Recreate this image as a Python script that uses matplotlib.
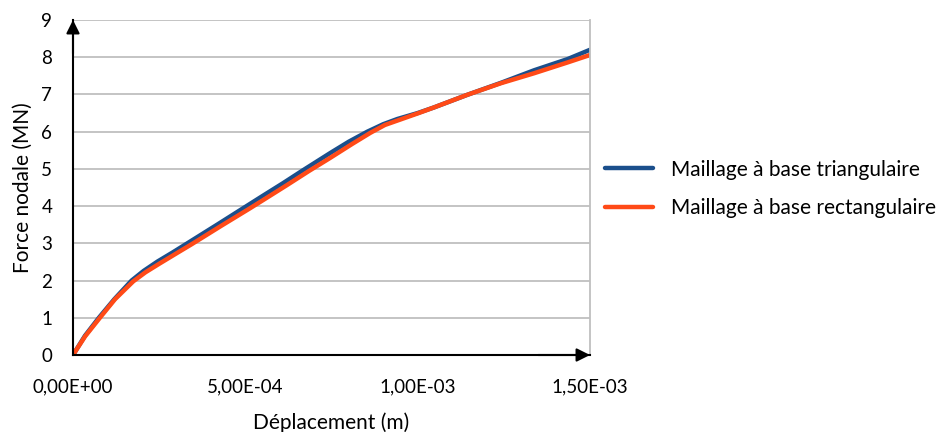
import matplotlib
matplotlib.use("Agg")
import matplotlib.pyplot as plt
from matplotlib.ticker import FuncFormatter

plt.rcParams['font.family'] = ['Lato', 'DejaVu Sans']

# displacement (m) and nodal force (MN)
x_tri = [0, 0.035e-3, 0.075e-3, 0.12e-3, 0.17e-3, 0.205e-3, 0.245e-3, 0.29e-3, 0.335e-3,
         0.418e-3, 0.50e-3, 0.553e-3, 0.61e-3, 0.665e-3, 0.747e-3, 0.80e-3, 0.854e-3,
         0.90e-3, 0.941e-3, 1.0e-3, 1.047e-3, 1.144e-3, 1.241e-3, 1.338e-3, 1.435e-3,
         1.50e-3]
f_tri = [0, 0.52, 1.0, 1.5, 2.0, 2.26, 2.51, 2.76, 3.02,
         3.5, 3.98, 4.29, 4.62, 4.95, 5.43, 5.73, 6.0,
         6.2, 6.34, 6.5, 6.65, 6.99, 7.31, 7.65, 7.95,
         8.2]

x_rect = [0, 0.035e-3, 0.078e-3, 0.122e-3, 0.175e-3, 0.21e-3, 0.25e-3, 0.30e-3, 0.345e-3,
          0.43e-3, 0.515e-3, 0.553e-3, 0.62e-3, 0.684e-3, 0.747e-3, 0.81e-3, 0.863e-3,
          0.905e-3, 0.951e-3, 1.0e-3, 1.047e-3, 1.144e-3, 1.241e-3, 1.338e-3, 1.435e-3,
          1.50e-3]
f_rect = [0, 0.5, 1.0, 1.5, 1.98, 2.22, 2.45, 2.73, 2.98,
          3.47, 3.95, 4.17, 4.56, 4.94, 5.3, 5.67, 5.97,
          6.18, 6.33, 6.49, 6.65, 6.99, 7.30, 7.57, 7.86,
          8.06]

labels = ["Maillage à base triangulaire", "Maillage à base rectangulaire"]
x_ticks = [0, 0.5e-3, 1.0e-3, 1.5e-3]

fig = plt.figure(figsize=(9.46, 4.32), dpi=100)
ax = fig.add_axes([73/946, 1 - 355/432, (590 - 73)/946, (355 - 20)/432])

ax.plot(x_tri, f_tri, color='#1b4f8c', lw=3.2, label=labels[0],
        solid_capstyle='round', solid_joinstyle='round')
ax.plot(x_rect, f_rect, color='#ff4a17', lw=3.2, label=labels[1],
        solid_capstyle='round', solid_joinstyle='round')

ax.set_xlim(0, 1.5e-3)
ax.set_ylim(0, 9)
ax.set_xticks(x_ticks)
ax.set_yticks(range(10))
ax.xaxis.set_major_formatter(FuncFormatter(
    lambda v, p: ("%.2E" % v).replace('.', ',')))
ax.tick_params(length=0, labelsize=13.5)
ax.tick_params(axis='y', pad=15)
ax.tick_params(axis='x', pad=17)
ax.grid(axis='y', color='#bfbfbf', lw=1.3)
ax.set_axisbelow(True)

ax.spines['top'].set_visible(False)
ax.spines['right'].set_color('#bfbfbf')
ax.spines['right'].set_linewidth(1.3)
ax.spines['left'].set_linewidth(1.5)
ax.spines['bottom'].set_linewidth(1.5)

# arrow heads on the axes
ax.annotate('', xy=(0, 1.0), xytext=(0, 0.9), xycoords='axes fraction',
            arrowprops=dict(arrowstyle='-|>', color='k', lw=1.5,
                            mutation_scale=20, shrinkA=0, shrinkB=0))
ax.annotate('', xy=(1.0, 0), xytext=(0.9, 0), xycoords='axes fraction',
            arrowprops=dict(arrowstyle='-|>', color='k', lw=1.5,
                            mutation_scale=20, shrinkA=0, shrinkB=0))

ax.set_xlabel("Déplacement (m)", fontsize=15, labelpad=12)
ax.set_ylabel("Force nodale (MN)", fontsize=15, labelpad=6)

fig.legend(loc='center left', bbox_to_anchor=(586/946, 1 - 189/432), frameon=False,
           fontsize=15, handlelength=2.3, handletextpad=0.9, labelspacing=0.9)

fig.savefig("out.png", dpi=100)
